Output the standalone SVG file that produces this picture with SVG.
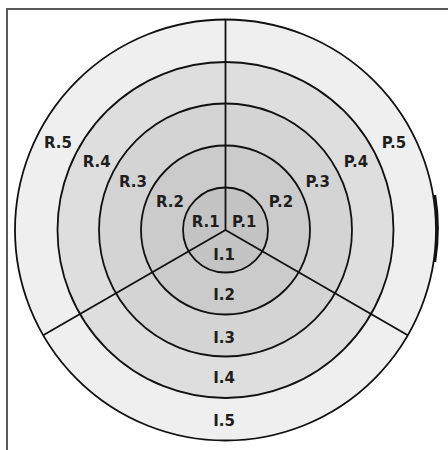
<svg xmlns="http://www.w3.org/2000/svg" width="448" height="450" viewBox="0 0 448 450">
<style>
.ring{stroke:#111;stroke-width:1.8}
.spoke{stroke:#111;stroke-width:1.8;fill:none}
.frame{stroke:#5a5a5a;stroke-width:2;fill:none}
text{font-family:"DejaVu Sans",Verdana,sans-serif;font-weight:bold;font-size:15px;fill:#1e1e1e;text-anchor:middle}
</style>
<rect width="448" height="450" fill="#ffffff"/>
<path class="frame" d="M7,450 V9 H448"/>
<g id="ring5"><circle class="ring" cx="225.5" cy="230" r="210.5" fill="#efefef"/></g>
<g id="ring4"><circle class="ring" cx="225.5" cy="230" r="168" fill="#dedede"/></g>
<g id="ring3"><circle class="ring" cx="225.5" cy="230" r="126.5" fill="#d4d4d4"/></g>
<g id="ring2"><circle class="ring" cx="225.5" cy="230" r="84.5" fill="#cbcbcb"/></g>
<g id="ring1"><circle class="ring" cx="225.5" cy="230" r="42.5" fill="#c4c4c4"/></g>
<path d="M434.9,195 A210.5,210.5 0 0 1 434.9,262" fill="none" stroke="#111" stroke-width="2.6"/>
<g id="connectors">
<line class="spoke" x1="225.5" y1="230" x2="225.5" y2="19.5"/>
<line class="spoke" x1="225.5" y1="230" x2="43.2" y2="335.2"/>
<line class="spoke" x1="225.5" y1="230" x2="407.8" y2="335.2"/>
</g>
<g id="labels">
<text x="58" y="148.3">R.5</text>
<text x="96.7" y="166.7">R.4</text>
<text x="133" y="186.7">R.3</text>
<text x="170" y="207.3">R.2</text>
<text x="205.7" y="226.7">R.1</text>
<text x="244.3" y="226.7">P.1</text>
<text x="281" y="207.3">P.2</text>
<text x="317.7" y="186.7">P.3</text>
<text x="356" y="166.7">P.4</text>
<text x="394" y="148.3">P.5</text>
<text x="224" y="260">I.1</text>
<text x="224" y="300">I.2</text>
<text x="224" y="343.3">I.3</text>
<text x="224" y="382.7">I.4</text>
<text x="224" y="426">I.5</text>
</g>
</svg>
